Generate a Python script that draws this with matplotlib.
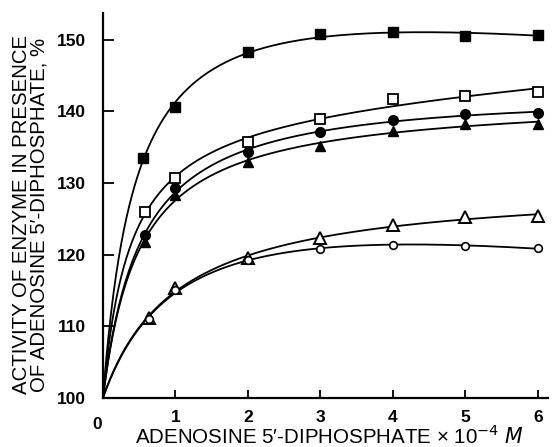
import numpy as np
import matplotlib
matplotlib.use("Agg")
import matplotlib.pyplot as plt

plt.rcParams['font.family'] = ['Liberation Sans', 'DejaVu Sans']

# ---- data ----
x_fsq = [0.55, 1.0, 2.0, 3.0, 4.0, 5.0, 6.0]
y_fsq = [133.5, 140.6, 148.3, 150.8, 151.1, 150.6, 150.7]

x_osq = [0.58, 1.0, 2.0, 3.0, 4.0, 5.0, 6.0]
y_osq = [126.0, 130.7, 135.7, 139.0, 141.7, 142.2, 142.7]

x_fci = [0.58, 1.0, 2.0, 3.0, 4.0, 5.0, 6.0]
y_fci = [122.7, 129.3, 134.3, 137.1, 138.8, 139.6, 139.8]

x_ftr = [0.58, 1.0, 2.0, 3.0, 4.0, 5.0, 6.0]
y_ftr = [121.8, 128.3, 132.9, 135.2, 137.3, 138.3, 138.3]

x_otr = [0.63, 1.0, 2.0, 3.0, 4.0, 5.0, 6.0]
y_otr = [111.2, 115.3, 119.5, 122.3, 124.1, 125.2, 125.4]

x_oci = [0.63, 1.0, 2.0, 3.0, 4.0, 5.0, 6.0]
y_oci = [111.0, 115.0, 119.2, 120.8, 121.4, 121.2, 120.9]

origin_y = 100.0

x_ticks = [1, 2, 3, 4, 5, 6]
y_ticks = [100, 110, 120, 130, 140, 150]


def fit_curve(xs, ys, xx):
    """Least-squares saturating fit y = y0 + V*x/(K+x) + c*x (grid over K)."""
    xs = np.asarray(xs, float); r = np.asarray(ys, float) - origin_y
    best = None
    for K in np.linspace(0.05, 3.0, 600):
        A = np.column_stack([xs / (K + xs), xs])
        coef, *_ = np.linalg.lstsq(A, r, rcond=None)
        err = np.sum((A @ coef - r) ** 2)
        if best is None or err < best[0]:
            best = (err, K, coef)
    _, K, (V, c) = best
    return origin_y + V * xx / (K + xx) + c * xx


fig = plt.figure(figsize=(5.52, 4.47), dpi=100)
ax = fig.add_axes([0.1866, 0.1103, 0.806, 0.8613])
ax.set_xlim(0, 6.14)
ax.set_ylim(100, 153.8)

series = [
    (x_fsq, y_fsq, dict(marker='s', mfc='black', mec='black', ms=7)),
    (x_osq, y_osq, dict(marker='s', mfc='white', mec='black', ms=7, mew=1.3)),
    (x_fci, y_fci, dict(marker='o', mfc='black', mec='black', ms=7)),
    (x_ftr, y_ftr, dict(marker='^', mfc='black', mec='black', ms=7)),
    (x_otr, y_otr, dict(marker='^', mfc='white', mec='black', ms=8.5, mew=1.4)),
    (x_oci, y_oci, dict(marker='o', mfc='white', mec='black', ms=5.5, mew=1.2)),
]

for xs, ys, st in series:
    xx = np.linspace(0, xs[-1], 500)
    ax.plot(xx, fit_curve(xs, ys, xx), color='black', lw=1.3, zorder=2)
for xs, ys, st in series:
    ax.plot(xs, ys, ls='none', zorder=3, **st)

for s in ['top', 'right']:
    ax.spines[s].set_visible(False)
for s in ['left', 'bottom']:
    ax.spines[s].set_linewidth(1.6)

ax.set_xticks(x_ticks)
ax.set_yticks(y_ticks)
ax.tick_params(axis='both', direction='in', width=1.3, labelsize=12.5)
ax.tick_params(axis='y', length=8, pad=12)
ax.tick_params(axis='x', length=6, pad=9)
for lab in ax.get_xticklabels() + ax.get_yticklabels():
    lab.set_fontweight('bold')

ax.text(-0.08, -0.05, '0', transform=ax.get_xaxis_transform(), ha='center', va='top',
        fontsize=12.5, fontweight='bold')

fig.text(0.596, 1 - 444 / 447, 'ADENOSINE 5\u2032-DIPHOSPHATE \u00d7 10$^{-4}$ $\\it{M}$',
         ha='center', va='baseline', fontsize=14.8)
fig.text(0.055, 0.52, 'ACTIVITY OF ENZYME IN PRESENCE\nOF ADENOSINE 5\u2032-DIPHOSPHATE, %',
         rotation=90, ha='center', va='center', fontsize=14.7, linespacing=0.95)

fig.savefig('out.png', dpi=100)
